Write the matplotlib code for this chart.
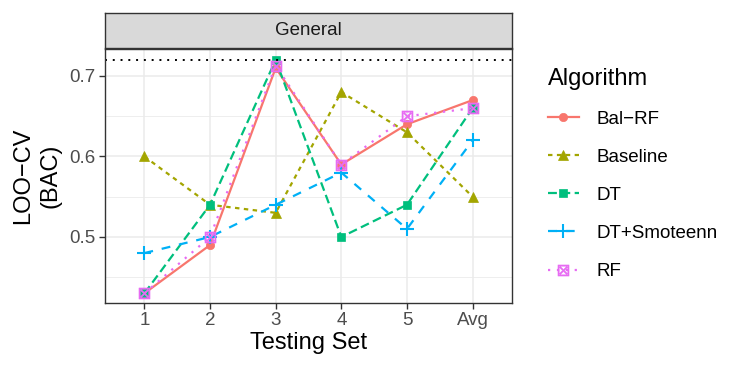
import matplotlib
matplotlib.use("Agg")
import matplotlib.pyplot as plt

test_sets = ["1", "2", "3", "4", "5", "Avg"]
algorithms = ["Bal\u2212RF", "Baseline", "DT", "DT+Smoteenn", "RF"]
bal_rf = [0.43, 0.49, 0.71, 0.59, 0.64, 0.67]
baseline = [0.60, 0.54, 0.53, 0.68, 0.63, 0.55]
dt = [0.43, 0.54, 0.72, 0.50, 0.54, 0.66]
dt_smoteenn = [0.48, 0.50, 0.54, 0.58, 0.51, 0.62]
rf = [0.43, 0.50, 0.713, 0.59, 0.65, 0.66]
reference_line = 0.72
y_ticks = [0.5, 0.6, 0.7]
y_minor = [0.45, 0.55, 0.65]

series = [bal_rf, baseline, dt, dt_smoteenn, rf]
colors = ["#F8766D", "#A3A500", "#00BF7D", "#00B0F6", "#E76BF3"]
linestyles = ["-", (0, (2, 2)), (0, (4, 2)), (0, (4, 4)), (0, (1, 3))]
markers = ["o", "^", "s", "+", "$\u22A0$"]
msizes = [6, 7, 6, 10, 8]

plt.rcParams['font.sans-serif'] = ['Liberation Sans', 'DejaVu Sans']
plt.rcParams['font.family'] = 'sans-serif'

TICK = 13.5
TITLE = 17

fig = plt.figure(figsize=(7.47, 3.75), dpi=100)
W, H = 747, 375
left, right, top, bottom = 105, 512, 49, 303
ax = fig.add_axes([left / W, 1 - bottom / H, (right - left) / W, (bottom - top) / H])

x = list(range(len(test_sets)))
for vals, lab, c, ls, m, ms in zip(series, algorithms, colors, linestyles, markers, msizes):
    ax.plot(x, vals, color=c, linestyle=ls, linewidth=1.6, marker=m, markersize=ms,
            markeredgewidth=1.5 if m == "+" else (0.3 if m.startswith("$") else 0.5),
            label=lab)

ax.axhline(reference_line, color="black", linestyle=(0, (1, 3)), linewidth=1.4)

ax.set_xlim(-0.6, len(test_sets) - 1 + 0.6)
ax.set_ylim(0.418, 0.7335)
ax.set_xticks(x)
ax.set_xticklabels(test_sets)
ax.set_yticks(y_ticks)
ax.set_yticks(y_minor, minor=True)
ax.set_yticklabels([f"{v:.1f}" for v in y_ticks])
ax.grid(True, which="major", color="#EBEBEB", linewidth=1.1)
ax.grid(True, which="minor", axis="y", color="#EBEBEB", linewidth=0.6)
ax.set_axisbelow(True)
for s in ax.spines.values():
    s.set_color("#333333")
    s.set_linewidth(1.0)
ax.tick_params(axis="both", which="major", colors="#333333", labelcolor="#4D4D4D",
               labelsize=TICK, length=4, width=1, pad=2.5)
ax.tick_params(axis="both", which="minor", length=0)
ax.set_xlabel("Testing Set", fontsize=TITLE, labelpad=2)
ax.set_ylabel("LOO\u2212CV\n(BAC)", fontsize=TITLE, labelpad=6, linespacing=1.3)

# facet strip
strip = fig.add_axes([left / W, 1 - 48 / H, (right - left) / W, 35 / H])
strip.set_xticks([]); strip.set_yticks([])
strip.set_facecolor("#D9D9D9")
for s in strip.spines.values():
    s.set_color("#333333")
    s.set_linewidth(1.0)
strip.text(0.5, 0.5, "General", ha="center", va="center", fontsize=TICK, color="#1A1A1A",
           transform=strip.transAxes)

leg = ax.legend(title="Algorithm", loc="upper left", bbox_to_anchor=(540 / W, 1 - 60 / H),
                bbox_transform=fig.transFigure, frameon=False, fontsize=TICK,
                title_fontsize=TITLE, handlelength=1.7, labelspacing=1.12,
                handletextpad=0.9, alignment="left", borderaxespad=0)

fig.savefig("out.png", dpi=100)
